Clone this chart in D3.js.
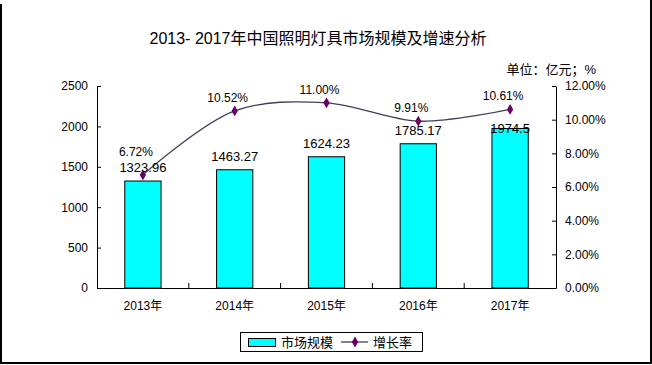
<!DOCTYPE html>
<html>
<head>
<meta charset="utf-8">
<script src="https://cdn.jsdelivr.net/npm/d3@7"></script>
<style>
  html, body { margin: 0; padding: 0; background: #fff; }
  svg { display: block; }
  text { font-family: "Liberation Sans", "Noto Sans CJK SC", sans-serif; fill: #000; }
</style>
</head>
<body>
<svg id="chart" width="652" height="365"></svg>
<script>
const categories = ["2013年", "2014年", "2015年", "2016年", "2017年"];
const marketSize = [1323.96, 1463.27, 1624.23, 1785.17, 1974.5];
const marketLabels = ["1323.96", "1463.27", "1624.23", "1785.17", "1974.5"];
const growthRate = [6.72, 10.52, 11.00, 9.91, 10.61];
const leftTicks = [0, 500, 1000, 1500, 2000, 2500];
const rightTicks = [0, 2, 4, 6, 8, 10, 12];
const titleText = "2013- 2017年中国照明灯具市场规模及增速分析";
const unitText = "单位：亿元；%";
const legendNames = ["市场规模", "增长率"];

const svg = d3.select("#chart");
const W = 652, H = 365;
const plot = { left: 97, right: 556, top: 86, bottom: 288 };

svg.append("rect").attr("width", W).attr("height", H).attr("fill", "#fff");

// outer frame (left, right, bottom)
svg.append("line").attr("x1", 1).attr("x2", 1).attr("y1", 4).attr("y2", 364)
  .attr("stroke", "#000").attr("stroke-width", 2);
svg.append("line").attr("x1", 651).attr("x2", 651).attr("y1", 0).attr("y2", 364)
  .attr("stroke", "#000").attr("stroke-width", 2);
svg.append("line").attr("x1", 0).attr("x2", 652).attr("y1", 363).attr("y2", 363)
  .attr("stroke", "#000").attr("stroke-width", 2);

// title
svg.append("text").attr("x", 318).attr("y", 44).attr("text-anchor", "middle")
  .style("font-size", "16px").text(titleText);
svg.append("text").attr("x", 596).attr("y", 74).attr("text-anchor", "end")
  .style("font-size", "13px").text(unitText);

const x = d3.scaleBand().domain(categories).range([plot.left, plot.right]).padding(0);
const yL = d3.scaleLinear().domain([0, 2500]).range([plot.bottom, plot.top]);
const yR = d3.scaleLinear().domain([0, 12]).range([plot.bottom, plot.top]);

const barW = x.step() * 0.395;

// bars
svg.append("g").selectAll("rect").data(marketSize).join("rect")
  .attr("x", (d, i) => x(categories[i]) + x.bandwidth() / 2 - barW / 2)
  .attr("y", d => yL(d))
  .attr("width", barW)
  .attr("height", d => yL(0) - yL(d))
  .attr("fill", "#00ffff")
  .attr("stroke", "#000")
  .attr("stroke-width", 1);

// left axis
const gL = svg.append("g").attr("transform", `translate(${plot.left},0)`)
  .call(d3.axisLeft(yL).tickValues(leftTicks).tickSizeInner(-4).tickSizeOuter(0).tickPadding(9)
    .tickFormat(d3.format("d")));
gL.selectAll("text").style("font-size", "12px");

// right axis
const gR = svg.append("g").attr("transform", `translate(${plot.right},0)`)
  .call(d3.axisRight(yR).tickValues(rightTicks).tickSizeInner(-4).tickSizeOuter(0).tickPadding(9)
    .tickFormat(d => d.toFixed(2) + "%"));
gR.selectAll("text").style("font-size", "12px");

// bottom axis
const gB = svg.append("g").attr("transform", `translate(0,${plot.bottom})`)
  .call(d3.axisBottom(x).tickSize(0).tickPadding(13));
gB.selectAll("text").style("font-size", "12px");
// category boundary ticks (inward)
gB.selectAll(".bnd").data(categories.slice(1)).join("line")
  .attr("class", "bnd")
  .attr("x1", d => x(d)).attr("x2", d => x(d))
  .attr("y1", 0).attr("y2", -5)
  .attr("stroke", "#000");

[gL, gR, gB].forEach(g => {
  g.selectAll("path, line").attr("stroke", "#000").attr("stroke-width", 1);
  g.selectAll("text").attr("fill", "#000");
});

// growth line
const cx = i => x(categories[i]) + x.bandwidth() / 2;
const line = d3.line().x((d, i) => cx(i)).y(d => yR(d)).curve(d3.curveCatmullRom.alpha(0.5));
svg.append("path").datum(growthRate).attr("d", line)
  .attr("fill", "none").attr("stroke", "#3f3f5a").attr("stroke-width", 1.3);

const diamond = d3.symbol().type(d3.symbolDiamond).size(34);
svg.append("g").selectAll("path").data(growthRate).join("path")
  .attr("d", diamond)
  .attr("transform", (d, i) => `translate(${cx(i)},${yR(d)})`)
  .attr("fill", "#660066");

// bar value labels (placed above bar unless the line marker sits right there)
const barLabelCenter = marketSize.map((d, i) => {
  const top = yL(d), m = yR(growthRate[i]);
  let c = top - 14;
  if (Math.abs(c - m) < 8 && m < top - 10) c = top;
  return c;
});
svg.append("g").selectAll("text").data(marketLabels).join("text")
  .attr("x", (d, i) => cx(i))
  .attr("y", (d, i) => barLabelCenter[i] + 5)
  .attr("text-anchor", "middle")
  .style("font-size", "13px")
  .text(d => d);

// growth labels
const pctCenter = growthRate.map((d, i) => {
  let c = yR(d) - 13;
  if (Math.abs(c - barLabelCenter[i]) < 13) c = barLabelCenter[i] - 15;
  return c;
});
svg.append("g").selectAll("text").data(growthRate).join("text")
  .attr("x", (d, i) => cx(i) - 7)
  .attr("y", (d, i) => pctCenter[i] + 4)
  .attr("text-anchor", "middle")
  .style("font-size", "12px")
  .text(d => d.toFixed(2) + "%");

// legend
const lg = svg.append("g");
lg.append("rect").attr("x", 240.5).attr("y", 332.5).attr("width", 182).attr("height", 19)
  .attr("fill", "#fff").attr("stroke", "#000");
lg.append("rect").attr("x", 248.5).attr("y", 338.5).attr("width", 27).attr("height", 8)
  .attr("fill", "#00ffff").attr("stroke", "#000");
lg.append("text").attr("x", 281).attr("y", 347).style("font-size", "13px").text(legendNames[0]);
lg.append("line").attr("x1", 341).attr("x2", 368).attr("y1", 342).attr("y2", 342)
  .attr("stroke", "#3f3f5a").attr("stroke-width", 1.3);
lg.append("path").attr("d", diamond).attr("transform", "translate(355,342)").attr("fill", "#660066");
lg.append("text").attr("x", 373).attr("y", 347).style("font-size", "13px").text(legendNames[1]);
</script>
</body>
</html>
